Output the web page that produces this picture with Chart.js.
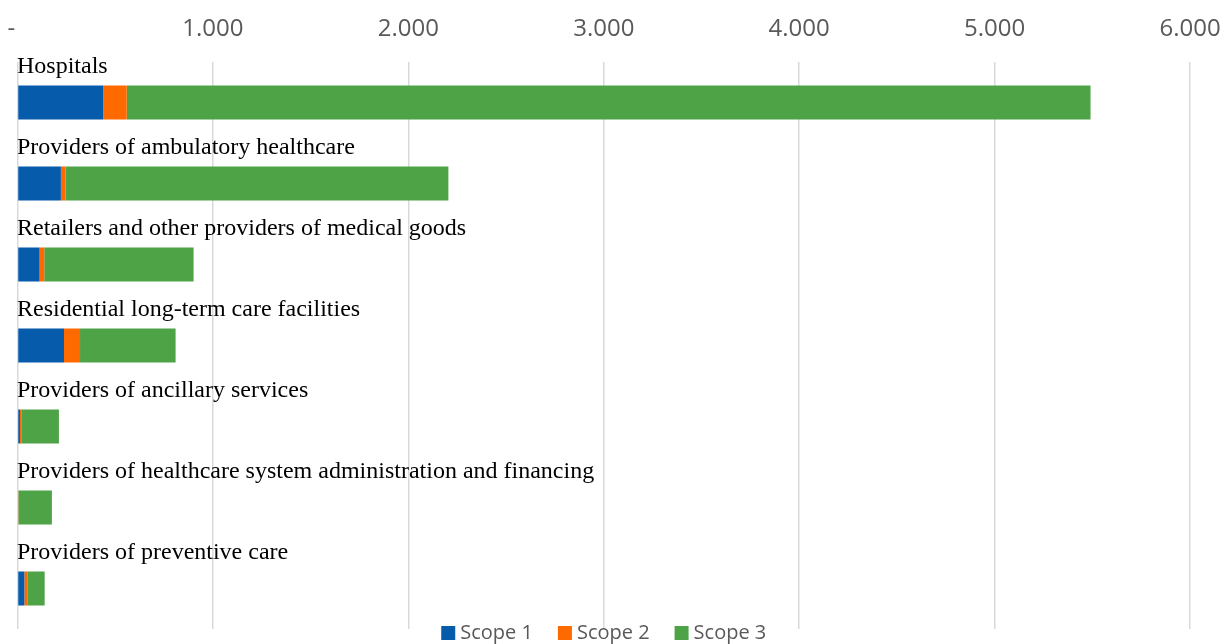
<!DOCTYPE html>
<html>
<head>
<meta charset="utf-8">
<script src="https://cdn.jsdelivr.net/npm/chart.js@4"></script>
<style>
html, body { margin: 0; padding: 0; background: #fff; }
#wrap { width: 1223px; height: 644px; }
</style>
</head>
<body>
<div id="wrap"><canvas id="chart" width="1223" height="644"></canvas></div>
<script>
// categories and emissions per scope
const categories = [
  "Hospitals",
  "Providers of ambulatory healthcare",
  "Retailers and other providers of medical goods",
  "Residential long-term care facilities",
  "Providers of ancillary services",
  "Providers of healthcare system administration and financing",
  "Providers of preventive care"
]
const scope1 = [439, 222, 113, 238, 13, 4, 35]
const scope2 = [120, 24, 24, 82, 6, 1, 15]
const scope3 = [4932, 1959, 764, 489, 193, 171, 89]
const seriesNames = ["Scope 1", "Scope 2", "Scope 3"]
const colors = ["#065bab", "#ff6a00", "#4ea346"]

// format 1000 -> "1.000", 0 -> "-"
function fmt(v){
  if(v === 0) return "-  "
  let s = String(v)
  return s.replace(/\B(?=(\d{3})+(?!\d))/g, ".")
}

// category names drawn above each bar
const barLabels = {
  id: "barLabels",
  afterDatasetsDraw(chart){
    let ctx = chart.ctx
    let y = chart.scales.y
    ctx.save()
    ctx.font = "24px 'Liberation Serif'"
    ctx.fillStyle = "#000"
    ctx.textBaseline = "alphabetic"
    ctx.textAlign = "left"
    categories.forEach((c, i) => {
      ctx.fillText(c, 17, y.getPixelForValue(i) - 29.5)
    })
    ctx.restore()
  }
}

// legend at the bottom, centred on the plot area
const bottomLegend = {
  id: "bottomLegend",
  afterDraw(chart){
    let ctx = chart.ctx
    let area = chart.chartArea
    ctx.save()
    ctx.font = "20px 'Open Sans'"
    let box = 14, gap = 5, spacing = 25
    let widths = seriesNames.map(n => ctx.measureText(n).width)
    let total = widths.reduce((s, w) => s + box + gap + w, 0) + spacing * (seriesNames.length - 1)
    let x = (area.left + area.right) / 2 - total / 2
    let yc = 633
    seriesNames.forEach((n, i) => {
      ctx.fillStyle = colors[i]
      ctx.fillRect(x, yc - 7, box, box)
      ctx.fillStyle = "#595959"
      ctx.textBaseline = "middle"
      ctx.fillText(n, x + box + gap, yc)
      x += box + gap + widths[i] + spacing
    })
    ctx.restore()
  }
}

let ctx = document.getElementById("chart").getContext("2d")

new Chart(ctx, {
  type: "bar",
  data: {
    labels: categories,
    datasets: [scope1, scope2, scope3].map((d, i) => ({
      label: seriesNames[i],
      data: d,
      backgroundColor: colors[i],
      borderWidth: 0,
      categoryPercentage: 0.42,
      barPercentage: 1
    }))
  },
  options: {
    indexAxis: "y",
    responsive: false,
    animation: false,
    layout: { padding: { left: 17.5, right: 33, top: 13, bottom: 15 } },
    plugins: {
      legend: { display: false },
      tooltip: { enabled: false }
    },
    scales: {
      x: {
        position: "top",
        stacked: true,
        min: 0,
        max: 6000,
        ticks: {
          stepSize: 1000,
          color: "#595959",
          font: { family: "'Open Sans'", size: 24 },
          padding: 18,
          maxRotation: 0,
          callback: v => fmt(v)
        },
        grid: { color: "#d9d9d9", lineWidth: 1.5, drawTicks: false },
        border: { display: false },
        afterFit: s => {
          s.height = 49
          s.paddingLeft = 0
          s.paddingRight = 0
        }
      },
      y: {
        stacked: true,
        display: false
      }
    }
  },
  plugins: [barLabels, bottomLegend]
})
</script>
</body>
</html>
